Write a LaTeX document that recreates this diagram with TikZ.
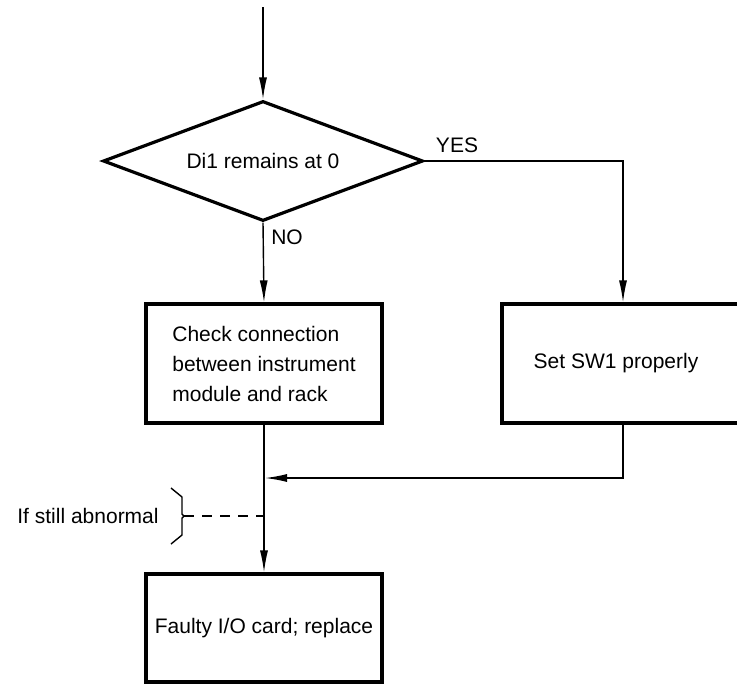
\documentclass[tikz,border=0pt]{standalone}
\usepackage{fontspec}
\setmainfont{Liberation Sans}
\usepackage{tikz}
\usetikzlibrary{arrows.meta,positioning,shapes.geometric}

\begin{document}
\begin{tikzpicture}[x=0.5pt,y=-0.5pt,
    font=\fontsize{10.5}{15}\selectfont,
    box/.style={draw,line width=1.6pt,inner sep=0pt,minimum width=118pt,minimum height=59.5pt},
    decision/.style={draw,diamond,line width=1.6pt,shape aspect=2.67,inner sep=0pt,minimum width=160pt,minimum height=60pt},
    arrow/.style={line width=0.7pt,-{Latex[length=11pt,width=4pt]}},
    line/.style={line width=0.7pt}]
    \useasboundingbox (0,0) rectangle (737,692);
    % decision
    \coordinate (start) at (263,7);
    \node[decision] (test) at (263,161) {Di1 remains at 0};
    \node (yes) at (457,145) {YES};
    \node (no) at (287,237) {NO};
    % boxes
    \node[box,align=left] (check) at (264,363.5) {Check connection\\between instrument\\module and rack};
    \node[box,minimum width=126pt] (setsw) at (628,363.5) {\hspace{-12pt}Set SW1 properly};
    \node[box,minimum height=54pt] (faulty) at (264,628) {\raisebox{-2pt}{Faulty I/O card; replace}};
    \node (abnormal) at (88,516) {If still abnormal};
    \coordinate (join) at (265,478);
    \coordinate (brace) at (184,516);
    % connectors
    \draw[arrow] (start) -- (test.north);
    \draw[arrow] (test.south) -- (check.north);
    \draw[arrow] (test.east) -| ([xshift=-2.5pt]setsw.north);
    \draw[arrow] ([xshift=-2.5pt]setsw.south) |- (join);
    \draw[arrow] (check.south) -- (faulty.north);
    \draw[line,dash pattern=on 5pt off 4pt] (brace) -- (brace -| check.south);
    \draw[line] (171,488) -- (182,497) -- (182,514) -- (brace) -- (182,518) -- (182,535) -- (171,544);
\end{tikzpicture}
\end{document}
